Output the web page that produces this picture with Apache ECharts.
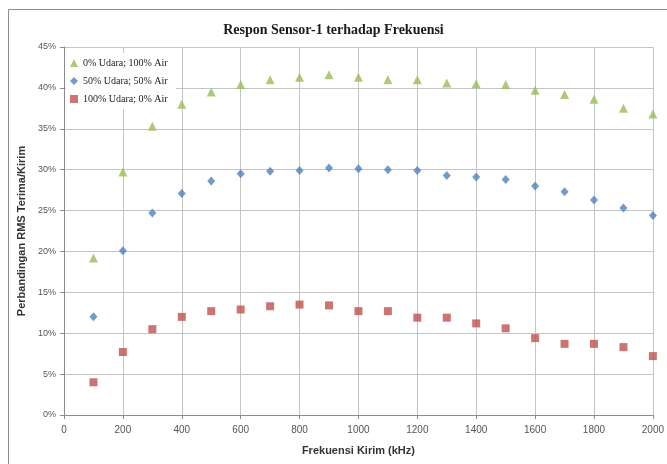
<!DOCTYPE html>
<html>
<head>
<meta charset="utf-8">
<script src="https://cdn.jsdelivr.net/npm/echarts@6/dist/echarts.min.js"></script>
<style>
  html, body { margin: 0; padding: 0; background: #fff; }
  #chart { width: 667px; height: 464px; }
</style>
</head>
<body>
<div id="chart"></div>
<script>
// Transmit frequency (kHz)
const freq = [100, 200, 300, 400, 500, 600, 700, 800, 900, 1000,
              1100, 1200, 1300, 1400, 1500, 1600, 1700, 1800, 1900, 2000];

// RMS ratio received/transmitted (%) for each medium mix
const air100 = [19.2, 29.7, 35.3, 38.0, 39.5, 40.4, 41.0, 41.3, 41.6, 41.3,
                41.0, 41.0, 40.6, 40.5, 40.4, 39.7, 39.2, 38.6, 37.5, 36.8];
const mix50 = [12.0, 20.1, 24.7, 27.1, 28.6, 29.5, 29.8, 29.9, 30.2, 30.1,
               30.0, 29.9, 29.3, 29.1, 28.8, 28.0, 27.3, 26.3, 25.3, 24.4];
const udara100 = [4.0, 7.7, 10.5, 12.0, 12.7, 12.9, 13.3, 13.5, 13.4, 12.7,
                  12.7, 11.9, 11.9, 11.2, 10.6, 9.4, 8.7, 8.7, 8.3, 7.2];

const seriesNames = ['0% Udara; 100% Air', '50% Udara; 50% Air', '100% Udara; 0% Air'];
const xTicks = { min: 0, max: 2000, interval: 200 };
const yTicks = { min: 0, max: 45, interval: 5 };

const pair = vals => freq.map((f, i) => [f, vals[i]]);

const chart = echarts.init(document.getElementById('chart'));
const gridColor = '#c4c4c4';
const sans = '"Liberation Sans", Arial, sans-serif';
const serif = '"Liberation Serif", "Times New Roman", serif';

chart.setOption({
  animation: false,
  backgroundColor: '#fff',
  title: {
    text: 'Respon Sensor-1 terhadap Frekuensi',
    left: 'center',
    top: 18,
    textStyle: { fontFamily: serif, fontSize: 14, fontWeight: 'bold', color: '#1a1a1a' }
  },
  graphic: [{
    type: 'rect',
    shape: { x: 8.5, y: 9.5, width: 680, height: 470 },
    style: { fill: 'none', stroke: '#8c8c8c', lineWidth: 1 },
    silent: true,
    z: -10
  }],
  grid: { left: 64, right: 10, top: 47, bottom: 49, containLabel: false },
  legend: {
    orient: 'vertical',
    left: 66,
    top: 53,
    itemWidth: 8,
    itemHeight: 8,
    itemGap: 8,
    padding: [5, 8, 5, 4],
    backgroundColor: '#fff',
    textStyle: { fontFamily: serif, fontSize: 10, color: '#222' },
    data: seriesNames
  },
  xAxis: {
    type: 'value',
    min: xTicks.min, max: xTicks.max, interval: xTicks.interval,
    name: 'Frekuensi Kirim (kHz)',
    nameLocation: 'middle',
    nameGap: 30,
    nameTextStyle: { fontFamily: sans, fontSize: 11, fontWeight: 'bold', color: '#333' },
    axisLine: { show: true, lineStyle: { color: '#8c8c8c' } },
    axisTick: { show: true, length: 4, lineStyle: { color: '#8c8c8c' } },
    axisLabel: { fontFamily: sans, fontSize: 10, color: '#555', margin: 10, formatter: v => String(v) },
    splitLine: { show: true, lineStyle: { color: gridColor } }
  },
  yAxis: {
    type: 'value',
    min: yTicks.min, max: yTicks.max, interval: yTicks.interval,
    name: 'Perbandingan RMS Terima/Kirim',
    nameLocation: 'middle',
    nameGap: 36,
    nameTextStyle: { fontFamily: sans, fontSize: 11, fontWeight: 'bold', color: '#333' },
    axisLine: { show: true, lineStyle: { color: '#8c8c8c' } },
    axisTick: { show: true, length: 4, lineStyle: { color: '#8c8c8c' } },
    axisLabel: { fontFamily: sans, fontSize: 9, color: '#555', margin: 8, formatter: '{value}%' },
    splitLine: { show: true, lineStyle: { color: gridColor } }
  },
  series: [
    {
      name: seriesNames[0], type: 'scatter', symbol: 'triangle', symbolSize: 9,
      itemStyle: { color: '#9bbb59' }, data: pair(air100), z: 3
    },
    {
      name: seriesNames[1], type: 'scatter', symbol: 'diamond', symbolSize: [8, 9],
      itemStyle: { color: '#4f81bd' }, data: pair(mix50), z: 3
    },
    {
      name: seriesNames[2], type: 'scatter', symbol: 'rect', symbolSize: 8,
      itemStyle: { color: '#c0504d' }, data: pair(udara100), z: 3
    }
  ]
});
</script>
</body>
</html>
